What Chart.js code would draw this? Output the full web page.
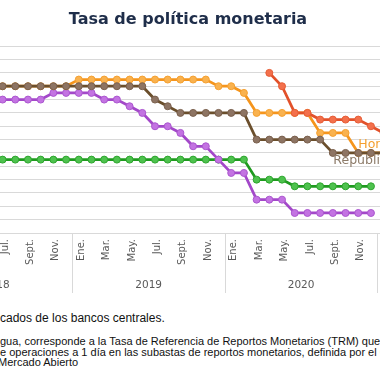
<!DOCTYPE html>
<html lang="es">
<head>
<meta charset="utf-8">
<title>Tasa de política monetaria</title>
<script src="https://cdn.jsdelivr.net/npm/chart.js@4.4.1/dist/chart.umd.min.js"></script>
<style>
  html, body { margin: 0; padding: 0; background: #fff; }
  body { width: 380px; height: 380px; overflow: hidden; position: relative; }
  #wrap { position: absolute; left: -100px; top: 0; width: 576px; height: 300px; }
  .nota { position: absolute; white-space: nowrap; font-family: "Liberation Sans", Arial, sans-serif; color: #111; }
</style>
</head>
<body>
<div id="wrap"><canvas id="tpm"></canvas></div>
<div class="nota" style="left:0;top:311px;font-size:12px;line-height:14px">cados de los bancos centrales.</div>
<div class="nota" style="left:0;top:336px;font-size:11px;line-height:11px">gua, corresponde a la Tasa de Referencia de Reportos Monetarios (TRM) que se</div>
<div class="nota" style="left:0;top:346.7px;font-size:11px;line-height:11px">e operaciones a 1 día en las subastas de reportos monetarios, definida por el Comité</div>
<div class="nota" style="left:-2px;top:357.4px;font-size:11px;line-height:11px">Mercado Abierto</div>
<script>
// months Jan 2018 .. Jan 2021
const monthNames = ['Ene.', 'Feb.', 'Mar.', 'Abr.', 'May.', 'Jun.', 'Jul.', 'Ago.', 'Sept.', 'Oct.', 'Nov.', 'Dic.'];
const years = ['2018', '2019', '2020'];
const categories = [];
years.forEach(y => monthNames.forEach(m => categories.push(m + ' ' + y)));
categories.push('Ene. 2021');

const costaRica = [
  5.00, 5.00, 5.00, 5.00, 5.00, 5.00, 5.00, 5.00, 5.00, 5.00, 5.25, 5.25,
  5.25, 5.25, 5.00, 5.00, 4.75, 4.50, 4.00, 4.00, 3.75, 3.25, 3.25, 2.75,
  2.25, 2.25, 1.25, 1.25, 1.25, 0.75, 0.75, 0.75, 0.75, 0.75, 0.75, 0.75,
  null
];
const guatemala = [
  2.75, 2.75, 2.75, 2.75, 2.75, 2.75, 2.75, 2.75, 2.75, 2.75, 2.75, 2.75,
  2.75, 2.75, 2.75, 2.75, 2.75, 2.75, 2.75, 2.75, 2.75, 2.75, 2.75, 2.75,
  2.75, 2.75, 2.00, 2.00, 2.00, 1.75, 1.75, 1.75, 1.75, 1.75, 1.75, 1.75,
  null
];
const honduras = [
  5.50, 5.50, 5.50, 5.50, 5.50, 5.50, 5.50, 5.50, 5.50, 5.50, 5.50, 5.50,
  5.75, 5.75, 5.75, 5.75, 5.75, 5.75, 5.75, 5.75, 5.75, 5.75, 5.75, 5.50,
  5.50, 5.25, 4.50, 4.50, 4.50, 4.50, 4.50, 3.75, 3.75, 3.75, 3.00, 3.00,
  3.00
];
const repDominicana = [
  5.50, 5.50, 5.50, 5.50, 5.50, 5.50, 5.50, 5.50, 5.50, 5.50, 5.50, 5.50,
  5.50, 5.50, 5.50, 5.50, 5.50, 5.50, 5.00, 4.75, 4.50, 4.50, 4.50, 4.50,
  4.50, 4.50, 3.50, 3.50, 3.50, 3.50, 3.50, 3.50, 3.00, 3.00, 3.00, 3.00,
  3.00
];
const nicaragua = [
  null, null, null, null, null, null, null, null, null, null, null, null,
  null, null, null, null, null, null, null, null, null, null, null, null,
  null, null, null, 6.00, 5.50, 4.50, 4.50, 4.25, 4.25, 4.25, 4.25, 4.00,
  3.75
];

function serie(label, data, line, fill, edge) {
  return {
    label, data,
    borderColor: line, borderWidth: 2.75,
    pointRadius: 3.5, pointBorderWidth: 1,
    pointBackgroundColor: fill, pointBorderColor: edge,
    tension: 0, spanGaps: false
  };
}

// draws the month / year axis rows under the plot
const axisRows = {
  id: 'axisRows',
  afterDraw(chart) {
    const { ctx, chartArea } = chart;
    const x = chart.scales.x;
    const base = chartArea.bottom;
    ctx.save();
    ctx.fillStyle = '#595959';
    ctx.font = '10px "DejaVu Sans"';
    ctx.textAlign = 'right';
    ctx.textBaseline = 'middle';
    categories.forEach((c, i) => {
      if ((i % 12) % 2) return;
      ctx.save();
      ctx.translate(x.getPixelForValue(i) + 2.5, base + 6);
      ctx.rotate(-Math.PI / 2);
      ctx.fillText(monthNames[i % 12], 0, 0);
      ctx.restore();
    });
    ctx.strokeStyle = '#d9d9d9';
    ctx.lineWidth = 1;
    for (let i = 12; i < categories.length; i += 12) {
      const bx = Math.round((x.getPixelForValue(i - 1) + x.getPixelForValue(i)) / 2) + 0.5;
      ctx.beginPath();
      ctx.moveTo(bx, base);
      ctx.lineTo(bx, base + 60);
      ctx.stroke();
    }
    ctx.font = '10.5px "DejaVu Sans"';
    ctx.textAlign = 'center';
    years.forEach((y, k) => {
      const cx = (x.getPixelForValue(k * 12) + x.getPixelForValue(k * 12 + 11)) / 2;
      ctx.fillText(y, cx, base + 52);
    });
    ctx.restore();
  }
};

// series names written next to the lines
const lineNames = {
  id: 'lineNames',
  afterDatasetsDraw(chart, args, opts) {
    const { ctx } = chart;
    opts.items.forEach(it => {
      const pt = chart.getDatasetMeta(it.dataset).data[it.index];
      ctx.save();
      ctx.font = '12.5px "DejaVu Sans"';
      ctx.fillStyle = it.color;
      ctx.textAlign = 'left';
      ctx.textBaseline = 'alphabetic';
      ctx.fillText(chart.data.datasets[it.dataset].label, pt.x + it.dx, pt.y + it.dy);
      ctx.restore();
    });
  }
};

new Chart(document.getElementById('tpm'), {
  type: 'line',
  data: {
    labels: categories,
    datasets: [
      serie('Nicaragua', nicaragua, '#e2512a', '#f3704c', '#e65d36'),
      serie('República Dominicana', repDominicana, '#6b4f2c', '#8d7463', '#7a604d'),
      serie('Honduras', honduras, '#f5951c', '#f9b24f', '#f5a030'),
      serie('Costa Rica', costaRica, '#a348c9', '#c373e2', '#ab56cf'),
      serie('Guatemala', guatemala, '#1f9a1f', '#4ec24e', '#2ea52e')
    ]
  },
  options: {
    responsive: true,
    maintainAspectRatio: false,
    animation: false,
    layout: { padding: 0 },
    plugins: {
      legend: { display: false },
      tooltip: { enabled: false },
      title: {
        display: true,
        text: 'Tasa de política monetaria',
        color: '#1f2e4a',
        font: { family: 'DejaVu Sans', size: 16, weight: 'bold', lineHeight: 1.2 },
        padding: { top: 10, bottom: 17 }
      },
      lineNames: {
        items: [
          { dataset: 2, index: 34, dx: 0, dy: -4.5, color: '#f5a030' },
          { dataset: 1, index: 32, dx: 0.5, dy: 11.5, color: '#8c7a68' }
        ]
      }
    },
    scales: {
      x: {
        type: 'category',
        offset: true,
        grid: { display: false, drawTicks: false },
        border: { display: false },
        ticks: { display: false },
        afterFit: s => { s.height = 67; }
      },
      y: {
        min: 0, max: 7,
        ticks: { display: false, stepSize: 0.5 },
        grid: { color: '#d9d9d9', lineWidth: 1, drawTicks: false },
        border: { display: false },
        afterFit: s => { s.width = 20; }
      },
      yRight: {
        position: 'right',
        display: true,
        grid: { display: false, drawTicks: false },
        border: { display: false },
        ticks: { display: false },
        afterFit: s => { s.width = 86; }
      }
    }
  },
  plugins: [axisRows, lineNames]
});
</script>
</body>
</html>
